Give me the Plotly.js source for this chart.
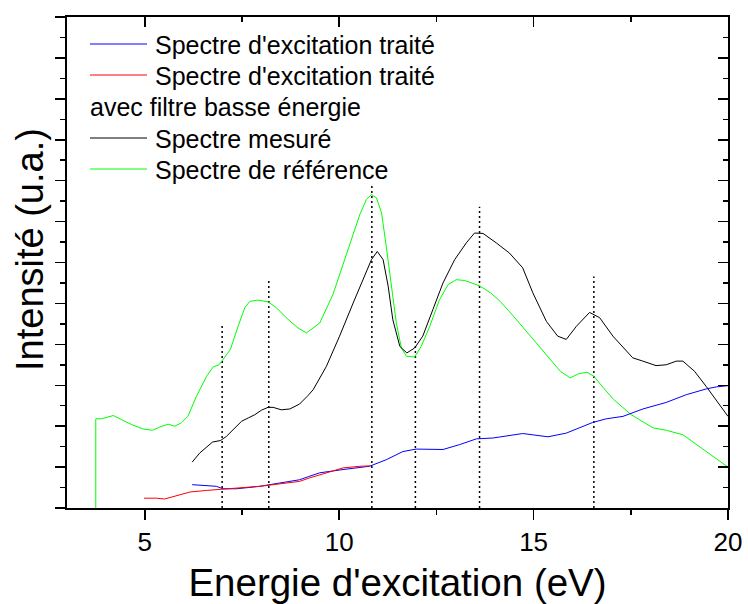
<!DOCTYPE html>
<html>
<head>
<meta charset="utf-8">
<script src="https://cdn.plot.ly/plotly-3.0.1.min.js"></script>
<style>html,body{margin:0;padding:0;background:#fff;}#chart{width:748px;height:604px;}</style>
</head>
<body>
<div id="chart"></div>
<script>
// ---- Data ----
const refX = [3.74,3.74,3.89,4.19,4.40,4.66,4.96,5.20,5.39,5.60,5.77,5.94,6.11,6.33,6.59,6.76,6.91,7.01,7.20,7.40,7.57,7.70,7.91,8.17,8.39,8.64,8.94,9.16,9.50,9.84,10.19,10.53,10.70,10.83,10.96,11.09,11.21,11.34,11.47,11.60,11.73,11.94,12.11,12.33,12.58,12.80,13.01,13.23,13.61,13.89,14.14,14.49,14.92,15.34,15.69,15.94,16.16,16.37,16.55,16.80,17.06,17.51,18.07,18.41,18.84,19.31,20.0];
const refY = [0,2.18,2.18,2.26,2.16,2.04,1.93,1.90,1.98,2.05,2.00,2.08,2.24,2.73,3.22,3.45,3.50,3.63,3.87,4.44,4.89,5.05,5.08,5.04,4.89,4.65,4.40,4.28,4.52,5.22,6.19,7.17,7.54,7.66,7.58,7.21,6.40,5.42,4.52,3.91,3.71,3.69,3.95,4.44,5.09,5.46,5.58,5.56,5.43,5.26,5.05,4.68,4.20,3.71,3.34,3.18,3.28,3.32,3.22,2.93,2.65,2.28,1.96,1.90,1.79,1.47,1.00];

const measX = [6.22,6.41,6.74,6.95,7.10,7.27,7.49,7.66,7.83,8.00,8.17,8.30,8.51,8.73,8.98,9.20,9.33,9.67,10.01,10.36,10.66,10.83,10.98,11.13,11.26,11.38,11.56,11.74,11.94,12.15,12.41,12.67,12.97,13.27,13.48,13.70,14.04,14.38,14.72,14.98,15.33,15.62,15.84,16.10,16.44,16.70,17.04,17.55,17.81,18.15,18.41,18.67,18.84,19.14,19.44,19.74,20.0];
const measY = [1.12,1.34,1.61,1.65,1.75,1.91,2.12,2.20,2.28,2.39,2.46,2.46,2.40,2.42,2.54,2.75,2.89,3.46,4.20,5.01,5.70,6.07,6.27,6.07,5.42,4.60,3.95,3.79,3.91,4.20,4.85,5.50,6.07,6.48,6.72,6.71,6.48,6.23,5.87,5.26,4.56,4.20,4.12,4.44,4.78,4.65,4.20,3.67,3.59,3.48,3.50,3.59,3.59,3.34,2.97,2.57,2.24];

const excX = [6.22,6.84,7.01,7.36,7.96,8.47,8.98,9.22,9.50,10.10,10.78,11.21,11.64,11.98,12.67,13.10,13.53,13.95,14.38,14.72,15.37,15.84,16.52,16.87,17.30,17.81,18.41,18.93,19.44,19.70,20.0];
const excY = [0.57,0.53,0.47,0.47,0.53,0.61,0.69,0.77,0.86,0.94,1.02,1.18,1.38,1.44,1.43,1.55,1.69,1.71,1.77,1.82,1.74,1.83,2.09,2.18,2.24,2.42,2.58,2.77,2.91,2.96,2.99];

const filtX = [4.98,5.30,5.51,5.81,6.16,6.59,6.88,7.36,7.96,8.47,8.98,9.22,9.50,10.10,10.53,10.80];
const filtY = [0.24,0.24,0.22,0.30,0.39,0.43,0.45,0.49,0.53,0.59,0.65,0.73,0.81,0.98,1.02,1.03];

const peakX = [6.99,8.19,10.84,11.96,13.61,16.55];
const peakTop = [4.46,5.60,7.90,4.60,7.36,5.66];

const xTickVals = [5,10,15,20];
const xMinorVals = [7.5,12.5,17.5];
const xTitle = "Energie d'excitation (eV)";
const yTitle = "Intensité (u.a.)";
const legendNames = ["Spectre d'excitation traité","Spectre d'excitation traité","avec filtre basse énergie","Spectre mesuré","Spectre de référence"];
const legendColors = ["#0000ff","#ff0000",null,"#000000","#00ff00"];

// ---- Build traces ----
const dotX = [], dotY = [];
peakX.forEach((p,i)=>{ dotX.push(p,p,null); dotY.push(0,peakTop[i],null); });

const traces = [
  {x: dotX, y: dotY, mode:'lines', line:{color:'#000', width:1.5, dash:'2px,3px'}, showlegend:false, hoverinfo:'skip'},
  {x: refX, y: refY, mode:'lines', name:legendNames[4], line:{color:'#00ff00', width:1}},
  {x: measX, y: measY, mode:'lines', name:legendNames[3], line:{color:'#000000', width:1}},
  {x: excX, y: excY, mode:'lines', name:legendNames[0], line:{color:'#0000ff', width:1}},
  {x: filtX, y: filtY, mode:'lines', name:legendNames[1]+' '+legendNames[2], line:{color:'#ff0000', width:1}}
];

// ---- Layout ----
const W = 748, H = 604, mL = 67, mR = 20, mT = 17, mB = 96;
const pw = W - mL - mR, ph = H - mT - mB;
const px2x = p => (p - mL) / pw;
const py2y = p => (H - mB - p) / ph;

const rowsY = [45, 76, 107, 139, 170];
const annotations = [], shapes = [];
legendNames.forEach((n,i)=>{
  const withLine = legendColors[i] !== null;
  annotations.push({text:n, xref:'paper', yref:'paper', x: px2x(withLine ? 153 : 88), y: py2y(rowsY[i]),
    xanchor:'left', yanchor:'middle', showarrow:false, font:{size:25, color:'#000'}});
  if (withLine) shapes.push({type:'line', xref:'paper', yref:'paper', x0:px2x(90), x1:px2x(147),
    y0:py2y(rowsY[i]-1), y1:py2y(rowsY[i]-1), line:{color:legendColors[i], width:1}});
});
// y-axis title
annotations.push({text:yTitle, xref:'paper', yref:'paper', x:px2x(30), y:py2y(250), textangle:-90,
  xanchor:'center', yanchor:'middle', showarrow:false, font:{size:38, color:'#000'}});

const font = {family:'"Liberation Sans", Arial, sans-serif', color:'#000'};
const layout = {
  width: W, height: H,
  margin: {l:mL, r:mR, t:mT, b:mB, pad:0},
  paper_bgcolor:'#fff', plot_bgcolor:'#fff',
  font: font,
  showlegend:false,
  xaxis: {
    range:[3,20], tickmode:'array', tickvals:xTickVals, ticktext:xTickVals.map(String),
    ticks:'outside', ticklen:10, tickwidth:1.5, tickcolor:'#000',
    minor:{tickmode:'array', tickvals:xMinorVals, ticks:'outside', ticklen:5, tickwidth:1.5, tickcolor:'#000'},
    showline:true, linewidth:2, linecolor:'#000', showgrid:false, zeroline:false,
    tickfont:{size:26}, title:{text:xTitle, font:{size:38.5}, standoff:13}
  },
  xaxis2: {
    range:[3,20], overlaying:'x', side:'top', anchor:'y', tickmode:'array', tickvals:xTickVals,
    ticks:'inside', ticklen:10, tickwidth:1.5, tickcolor:'#000', showticklabels:false,
    minor:{tickmode:'array', tickvals:xMinorVals, ticks:'inside', ticklen:5, tickwidth:1.5, tickcolor:'#000'},
    showline:true, linewidth:2, linecolor:'#000', showgrid:false, zeroline:false
  },
  yaxis: {
    range:[0,12], dtick:1, tick0:0, ticks:'outside', ticklen:10, tickwidth:1.5, tickcolor:'#000',
    minor:{dtick:0.5, ticks:'outside', ticklen:5, tickwidth:1.5, tickcolor:'#000'},
    showticklabels:false, showline:true, linewidth:2, linecolor:'#000', showgrid:false, zeroline:false
  },
  yaxis2: {
    range:[0,12], dtick:1, tick0:0, overlaying:'y', side:'right', anchor:'x',
    ticks:'inside', ticklen:10, tickwidth:1.5, tickcolor:'#000',
    minor:{dtick:0.5, ticks:'inside', ticklen:5, tickwidth:1.5, tickcolor:'#000'},
    showticklabels:false, showline:true, linewidth:2, linecolor:'#000', showgrid:false, zeroline:false
  },
  annotations: annotations,
  shapes: shapes
};

// empty traces so the mirrored axes are drawn
traces.push({x:[null], y:[null], xaxis:'x2', yaxis:'y', showlegend:false, hoverinfo:'skip'});
traces.push({x:[null], y:[null], xaxis:'x', yaxis:'y2', showlegend:false, hoverinfo:'skip'});

Plotly.newPlot('chart', traces, layout, {staticPlot:true});
</script>
</body>
</html>
